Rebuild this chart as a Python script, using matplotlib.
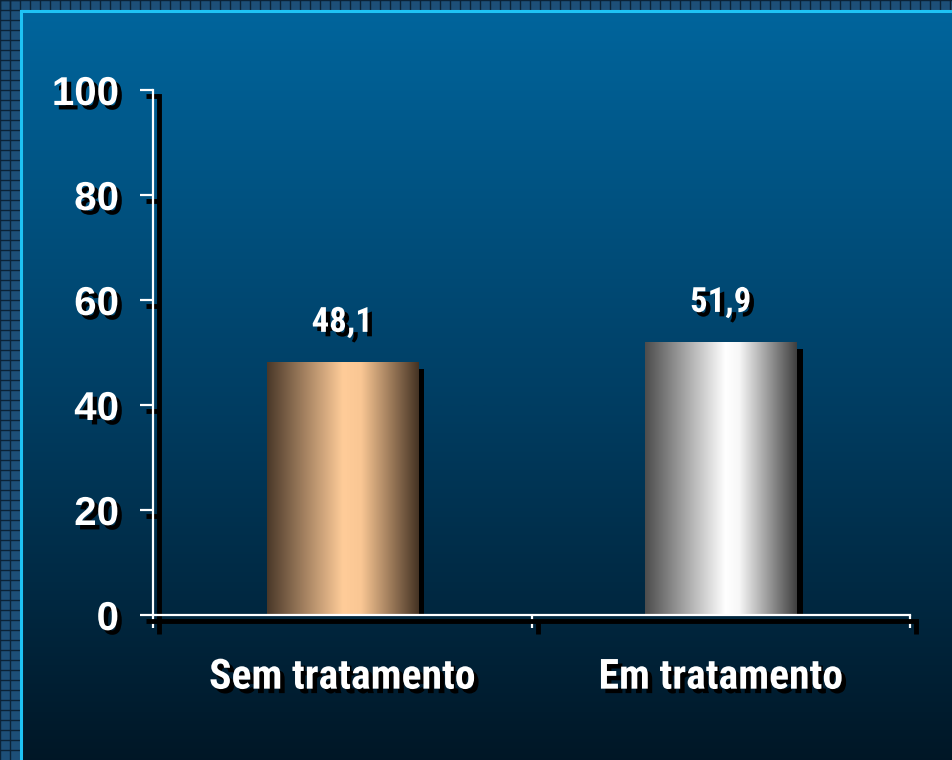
import numpy as np
import matplotlib
matplotlib.use("Agg")
import matplotlib.pyplot as plt
from matplotlib import patheffects as pe
from matplotlib.colors import LinearSegmentedColormap
from matplotlib.patches import Rectangle
from matplotlib import font_manager

categories = ["Sem tratamento", "Em tratamento"]
values = [48.1, 51.9]
value_labels = ["48,1", "51,9"]
yticks = [0, 20, 40, 60, 80, 100]

names = {f.name for f in font_manager.fontManager.ttflist}
narrow = "Liberation Sans"
for cand in ["Arial Narrow", "Liberation Sans Narrow", "Roboto Condensed", "PT Sans Narrow",
             "Asap Condensed", "Barlow Semi Condensed"]:
    if cand in names:
        narrow = cand
        break

W, H = 952, 760
fig = plt.figure(figsize=(W / 100, H / 100), dpi=100)

# background
bg = fig.add_axes([0, 0, 1, 1], zorder=-10)
bg.set_xlim(0, W)
bg.set_ylim(H, 0)
bg.axis("off")
grad_cmap = LinearSegmentedColormap.from_list(
    "bg", [(0.0, (0.0, 0.40, 0.62)), (0.5, (0.0, 0.25, 0.40)), (1.0, (0.0, 0.09, 0.15))])
g = np.linspace(0, 1, 256).reshape(-1, 1)
bg.imshow(g, cmap=grad_cmap, extent=(0, W, H, 0), aspect="auto", interpolation="bilinear")
# grid strip on left and top
bg.add_patch(Rectangle((0, 0), 19, H, color="#1d4f78", zorder=2))
bg.add_patch(Rectangle((0, 0), W, 10, color="#1d4f78", zorder=2))
for xx in np.arange(0, 19, 10):
    bg.plot([xx, xx], [0, H], color="#0b2236", lw=1.0, zorder=3)
for yy in np.arange(0, H, 10):
    bg.plot([0, 19], [yy, yy], color="#0b2236", lw=1.0, zorder=3)
for xx in np.arange(0, W, 10):
    bg.plot([xx, xx], [0, 10], color="#0b2236", lw=1.0, zorder=3)
bg.plot([0, W], [0, 0], color="#0b2236", lw=1.0, zorder=3)
bg.plot([20.5, 20.5], [10.5, H], color="#1ec3f5", lw=2.2, zorder=4)
bg.plot([20.5, W], [10.5, 10.5], color="#1ec3f5", lw=2.2, zorder=4)

ax = fig.add_axes([153 / W, 1 - 615 / H, (910 - 153) / W, (615 - 90) / H])
ax.set_facecolor("none")
x = np.arange(len(categories))
bw = 0.40

shadow_txt = [pe.withSimplePatchShadow(offset=(3.2, -3.2), shadow_rgbFace="black", alpha=1.0)]
line_fx = [pe.SimpleLineShadow(offset=(4.5, -4.5), shadow_color="black", alpha=1.0, linewidth=3.5),
           pe.Normal()]

bars = ax.bar(x, values, width=bw, color="black", linewidth=0, zorder=1)
cmaps = [
    LinearSegmentedColormap.from_list("c1", [(0, (0.29, 0.22, 0.16)), (0.5, (1.0, 0.80, 0.60)),
                                             (0.62, (0.98, 0.78, 0.58)), (1, (0.27, 0.20, 0.14))]),
    LinearSegmentedColormap.from_list("c2", [(0, (0.30, 0.30, 0.30)), (0.53, (1.0, 1.0, 1.0)),
                                             (0.62, (0.97, 0.97, 0.97)), (1, (0.25, 0.25, 0.25))]),
]
hg = np.linspace(0, 1, 256).reshape(1, -1)
for b, cm in zip(bars, cmaps):
    b.set_path_effects([pe.SimplePatchShadow(offset=(4.5, -5), shadow_rgbFace="black", alpha=1.0)])
    x0, w, h = b.get_x(), b.get_width(), b.get_height()
    ax.imshow(hg, cmap=cm, extent=(x0, x0 + w, 0, h), aspect="auto", interpolation="bilinear", zorder=2)

for xi, v, lab in zip(x, values, value_labels):
    ax.annotate(lab, (xi, v), xytext=(0, 17), textcoords="offset points", ha="center", va="bottom",
                fontsize=25, fontweight="bold", color="white", family=[narrow, "Liberation Sans"],
                path_effects=shadow_txt, zorder=5)

ax.set_xlim(-0.5, len(categories) - 0.5)
ax.set_ylim(0, 100)
ax.set_yticks(yticks)
ax.set_yticklabels([str(t) for t in yticks])
ax.set_xticks(np.arange(-0.5, len(categories), 1.0))
ax.set_xticklabels([])
ax.set_xticks(x, minor=True)
ax.set_xticklabels(categories, minor=True)
ax.tick_params(axis="x", which="major", direction="out", length=9, width=1.6, color="white")
ax.tick_params(axis="x", which="minor", length=0, pad=30, labelsize=30, labelcolor="white")
ax.tick_params(axis="y", direction="out", length=9.5, width=1.6, color="white", pad=15,
               labelsize=29, labelcolor="white")
for lab in ax.get_yticklabels():
    lab.set_fontweight("bold")
    lab.set_family("Liberation Sans")
    lab.set_path_effects(shadow_txt)
for lab in ax.get_xticklabels(minor=True):
    lab.set_fontweight("bold")
    lab.set_family([narrow, "Liberation Sans"])
    lab.set_path_effects(shadow_txt)

for s in ["top", "right"]:
    ax.spines[s].set_visible(False)
for s in ["left", "bottom"]:
    ax.spines[s].set_color("white")
    ax.spines[s].set_linewidth(1.6)
    ax.spines[s].set_path_effects(line_fx)
    ax.spines[s].set_zorder(4)
for t in ax.yaxis.get_major_ticks() + ax.xaxis.get_major_ticks():
    t.tick1line.set_path_effects(line_fx)

fig.savefig("out.png", dpi=100)
